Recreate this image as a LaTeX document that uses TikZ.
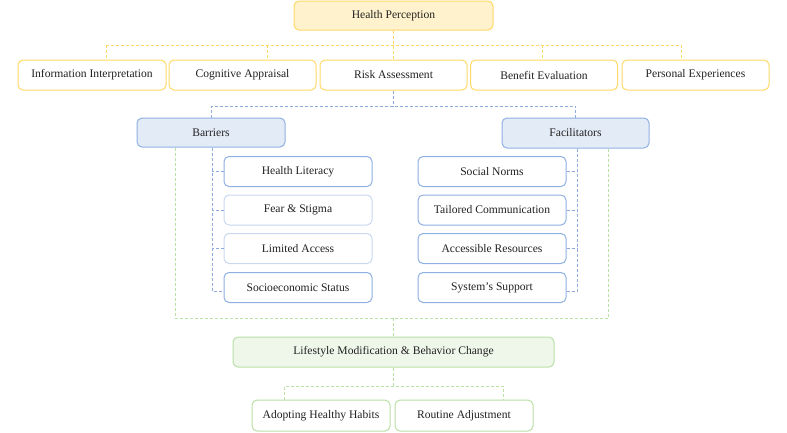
\documentclass[tikz,border=0pt]{standalone}
\usepackage{fontspec}
\setmainfont{Liberation Serif}
\definecolor{ybord}{HTML}{FFD966}
\definecolor{yfill}{HTML}{FFF2CC}
\definecolor{bbord}{HTML}{8FB0E3}
\definecolor{blite}{HTML}{C9D8F0}
\definecolor{bfill}{HTML}{E3EBF7}
\definecolor{bline}{HTML}{8FAADC}
\definecolor{gbord}{HTML}{B9E0A5}
\definecolor{gfill}{HTML}{EFF6EA}
\definecolor{txt}{HTML}{222222}
\tikzset{
  box/.style={draw, rounded corners=5pt, line width=1pt, align=center, text=txt,
    font=\fontsize{11.6pt}{13pt}\selectfont, inner sep=0pt, minimum height=30pt},
  ybox/.style={box, draw=ybord, fill=white},
  yhead/.style={box, draw=ybord, fill=yfill},
  bhead/.style={box, draw=bbord, fill=bfill},
  bbox/.style={box, draw=bbord, fill=white},
  bliteb/.style={box, draw=blite, fill=white},
  gbox/.style={box, draw=gbord, fill=white},
  ghead/.style={box, draw=gbord, fill=gfill},
  ydash/.style={draw=ybord, line width=1pt, dash pattern=on 3pt off 2pt},
  bdash/.style={draw=bline, line width=1pt, dash pattern=on 3pt off 2pt},
  gdash/.style={draw=gbord, line width=1pt, dash pattern=on 3pt off 2pt},
}
\begin{document}
\begin{tikzpicture}[x=1pt,y=-1pt]
\useasboundingbox (0,0) rectangle (787,432);
% top
\node[yhead, minimum width=199pt, minimum height=29pt] (hp) at (393.5,15.5) {Health Perception};
\node[ybox, minimum width=148pt] (info) at (92,75) {Information Interpretation};
\node[ybox, minimum width=147pt] (cog) at (242.5,75) {Cognitive Appraisal};
\node[ybox, minimum width=147pt] (risk) at (393.5,75) {Risk Assessment};
\node[ybox, minimum width=147pt] (ben) at (544,75) {Benefit Evaluation};
\node[ybox, minimum width=147pt] (pers) at (695.5,75) {Personal Experiences};
% barriers / facilitators
\node[bhead, minimum width=148pt, minimum height=29pt] (bar) at (211,132.5) {Barriers};
\node[bhead, minimum width=147pt] (fac) at (575.5,133) {Facilitators};
\node[bbox, minimum width=148pt] (hl) at (298,171.5) {Health Literacy};
\node[bliteb, minimum width=148pt] (fs) at (298,210) {Fear \& Stigma};
\node[bliteb, minimum width=148pt] (la) at (298,248.5) {Limited Access};
\node[bbox, minimum width=148pt] (ses) at (298,287.5) {Socioeconomic Status};
\node[bbox, minimum width=148pt] (sn) at (492,171.5) {Social Norms};
\node[bbox, minimum width=148pt] (tc) at (492,210) {Tailored Communication};
\node[bbox, minimum width=148pt] (ar) at (492,248.5) {Accessible Resources};
\node[bbox, minimum width=148pt] (ss) at (492,287.5) {System’s Support};
% lifestyle
\node[ghead, minimum width=321pt] (life) at (393.5,352) {Lifestyle Modification \& Behavior Change};
\node[gbox, minimum width=138pt, minimum height=31pt] (adopt) at (321,415.5) {Adopting Healthy Habits};
\node[gbox, minimum width=138pt, minimum height=31pt] (rout) at (464,415.5) {Routine Adjustment};
% yellow connectors
\coordinate (yl) at (106,45);
\coordinate (yr) at (681,45);
\coordinate (ycog) at (267,45);
\coordinate (yben) at (542,45);
\draw[ydash] (hp.south) -- (risk.north);
\draw[ydash] (yl) -- (yr);
\draw[ydash] (yl) -- (yl |- info.north);
\draw[ydash] (ycog) -- (ycog |- cog.north);
\draw[ydash] (yben) -- (yben |- ben.north);
\draw[ydash] (yr) -- (yr |- pers.north);
% blue connectors
\coordinate (bbus) at (393.5,106);
\draw[bdash] (risk.south) -- (bbus);
\draw[bdash] (bar.north) |- (bbus) -| (fac.north);
\coordinate (btrunk) at (212,291);
\draw[bdash] (bar.south -| btrunk) -- (btrunk) -- (btrunk -| ses.west);
\draw[bdash] (hl.west) -- (hl.west -| btrunk);
\draw[bdash] (fs.west) -- (fs.west -| btrunk);
\draw[bdash] (la.west) -- (la.west -| btrunk);
\coordinate (ftrunk) at (577,291);
\draw[bdash] (fac.south -| ftrunk) -- (ftrunk) -- (ftrunk -| ss.east);
\draw[bdash] (sn.east) -- (sn.east -| ftrunk);
\draw[bdash] (tc.east) -- (tc.east -| ftrunk);
\draw[bdash] (ar.east) -- (ar.east -| ftrunk);
% green connectors
\coordinate (gl) at (175,318);
\coordinate (gr) at (608,318);
\draw[gdash] (bar.south -| gl) -- (gl) -- (gr) -- (fac.south -| gr);
\draw[gdash] (life.north |- gl) -- (life.north);
\coordinate (gbl) at (284,386);
\coordinate (gbr) at (503,386);
\draw[gdash] (life.south) -- (life.south |- gbl);
\draw[gdash] (adopt.north -| gbl) -- (gbl) -- (gbr) -- (rout.north -| gbr);
\end{tikzpicture}
\end{document}
